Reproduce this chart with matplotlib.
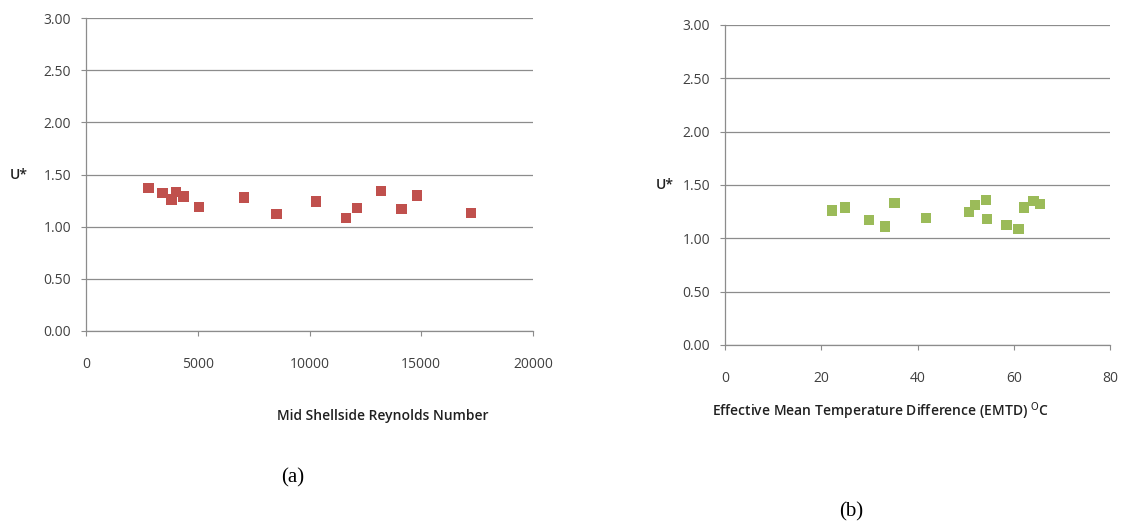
import matplotlib.pyplot as plt
import numpy as np

# Data
re_mid = [2800, 3420, 3830, 4030, 4360, 5050, 7080, 8530, 10290, 11630, 12120, 13190, 14120, 14810, 17240]
u_re = [1.37, 1.32, 1.26, 1.33, 1.29, 1.19, 1.28, 1.12, 1.24, 1.08, 1.18, 1.34, 1.17, 1.30, 1.13]

emtd = [22.3, 24.9, 29.9, 33.2, 35.2, 41.7, 50.7, 51.9, 54.2, 54.4, 58.5, 61.0, 62.1, 64.1, 65.4]
u_emtd = [1.26, 1.29, 1.17, 1.11, 1.33, 1.19, 1.25, 1.31, 1.36, 1.18, 1.125, 1.085, 1.29, 1.35, 1.32]

y_ticks = np.arange(0, 3.01, 0.5)

plt.rcParams['font.family'] = ['Open Sans', 'DejaVu Sans']

fig = plt.figure(figsize=(11.23, 5.24), dpi=100)
ax1 = fig.add_axes([86 / 1123, 1 - 331 / 524, (533 - 86) / 1123, 313 / 524])
ax2 = fig.add_axes([725 / 1123, 1 - 345 / 524, (1110 - 725) / 1123, 320 / 524])

grid_c = '#8c8c8c'
text_c = '#404040'


def style(ax, xlim, xticks):
    ax.set_xlim(xlim)
    ax.set_ylim(0, 3)
    ax.set_xticks(xticks)
    ax.set_yticks(y_ticks)
    ax.set_yticklabels(['%.2f' % v for v in y_ticks])
    ax.grid(axis='y', color=grid_c, linewidth=0.9)
    ax.set_axisbelow(True)
    for s in ['top', 'right']:
        ax.spines[s].set_visible(False)
    for s in ['left', 'bottom']:
        ax.spines[s].set_color(grid_c)
        ax.spines[s].set_linewidth(0.9)
    ax.tick_params(axis='x', length=3.6, color=grid_c, pad=15, labelsize=10, labelcolor=text_c)
    ax.tick_params(axis='y', length=3.6, color=grid_c, pad=7, labelsize=10, labelcolor=text_c)


ax1.scatter(re_mid, u_re, marker='s', s=55, color='#C0504D', edgecolors='none', zorder=3, clip_on=False)
style(ax1, (0, 20000), [0, 5000, 10000, 15000, 20000])

ax2.scatter(emtd, u_emtd, marker='s', s=55, color='#9BBB59', edgecolors='none', zorder=3, clip_on=False)
style(ax2, (0, 80), [0, 20, 40, 60, 80])

fig.text(10 / 1123, 1 - 175 / 524, 'U*', ha='left', va='center', fontsize=10, fontweight='semibold', color='#202020')
fig.text(656 / 1123, 1 - 185 / 524, 'U*', ha='left', va='center', fontsize=10, fontweight='semibold', color='#202020')

fig.text(383 / 1123, 1 - 416 / 524, 'Mid Shellside Reynolds Number', ha='center', va='center',
         fontsize=10, fontweight='semibold', color='#202020')
fig.text(880 / 1123, 1 - 411 / 524, 'Effective Mean Temperature Difference (EMTD) $^{\\mathrm{O}}$C',
         ha='center', va='center', fontsize=10, fontweight='semibold', color='#202020')

fig.text(293 / 1123, 1 - 478 / 524, '(a)', ha='center', va='center', fontsize=15,
         family=['Liberation Serif', 'DejaVu Serif'])
fig.text(851 / 1123, 1 - 512 / 524, '(b)', ha='center', va='center', fontsize=15,
         family=['Liberation Serif', 'DejaVu Serif'])

fig.savefig('out.png', dpi=100)
